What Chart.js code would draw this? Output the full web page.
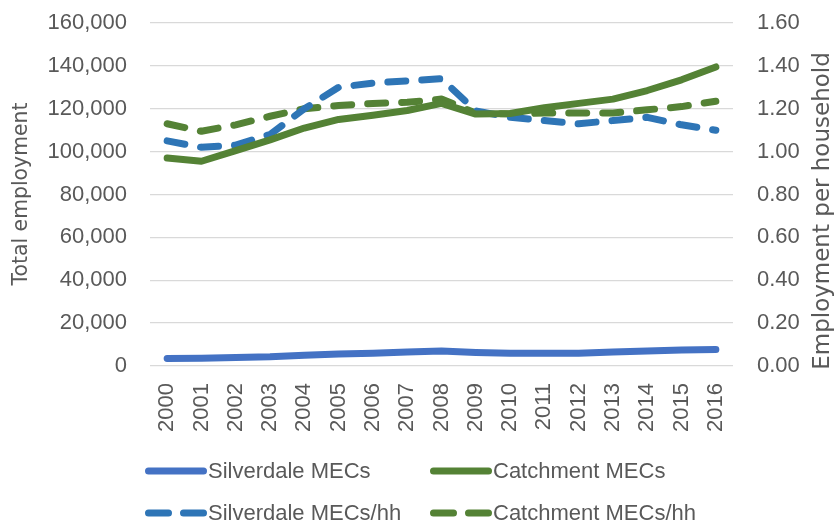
<!DOCTYPE html>
<html>
<head>
<meta charset="utf-8">
<script src="https://cdn.jsdelivr.net/npm/chart.js@4.4.1/dist/chart.umd.min.js"></script>
<style>
  html, body { margin: 0; padding: 0; background: #fff; }
  #wrap { width: 835px; height: 524px; position: relative; }
</style>
</head>
<body>
<div id="wrap"><canvas id="chart"></canvas></div>
<script>
// Data
const years = ['2000', '2001', '2002', '2003', '2004', '2005', '2006', '2007', '2008',
               '2009', '2010', '2011', '2012', '2013', '2014', '2015', '2016'];

const silverdaleMECs = [3500, 3600, 4000, 4300, 5000, 5600, 6000, 6500, 7000,
                        6300, 5900, 5900, 6000, 6500, 7000, 7500, 7700];
const catchmentMECs = [97000, 95500, 100500, 105500, 111000, 115000, 117000, 119200, 122500,
                       117500, 117800, 120500, 122500, 124500, 128500, 133500, 139500];
const silverdaleHH = [1.05, 1.02, 1.03, 1.08, 1.20, 1.30, 1.32, 1.33, 1.34,
                      1.19, 1.16, 1.145, 1.13, 1.145, 1.16, 1.125, 1.10];
const catchmentHH = [1.13, 1.095, 1.125, 1.165, 1.20, 1.215, 1.225, 1.23, 1.245,
                     1.18, 1.175, 1.18, 1.18, 1.18, 1.195, 1.21, 1.235];

const seriesNames = ['Silverdale MECs', 'Catchment MECs', 'Silverdale MECs/hh', 'Catchment MECs/hh'];

const TEXT = '#595959';
const SANS = "'Liberation Sans', Arial, sans-serif";
const TITLE_FONT = "'DejaVu Sans', sans-serif";

// Excel style legend: two fixed columns, two rows
const legendGrid = {
  id: 'legendGrid',
  afterDraw(chart) {
    const ctx = chart.ctx;
    const cols = [145, 430];
    const rows = [471, 513];
    chart.data.datasets.forEach((ds, i) => {
      const x = cols[i % 2];
      const y = rows[Math.floor(i / 2)];
      ctx.save();
      ctx.strokeStyle = ds.borderColor;
      ctx.lineWidth = ds.borderWidth;
      ctx.lineCap = 'round';
      ctx.setLineDash(ds.borderDash ? [20, 15] : []);
      ctx.beginPath();
      ctx.moveTo(x + 3.5, y);
      ctx.lineTo(x + 58.5, y);
      ctx.stroke();
      ctx.setLineDash([]);
      ctx.fillStyle = TEXT;
      ctx.font = '22px ' + SANS;
      ctx.textBaseline = 'middle';
      ctx.textAlign = 'left';
      ctx.fillText(ds.label, x + 63, y + 1);
      ctx.restore();
    });

    // axis titles, both reading bottom to top
    const drawTitle = (text, cx, cy, size) => {
      ctx.save();
      ctx.translate(cx, cy);
      ctx.rotate(-Math.PI / 2);
      ctx.font = size + 'px ' + TITLE_FONT;
      ctx.fillStyle = TEXT;
      ctx.textAlign = 'center';
      ctx.textBaseline = 'middle';
      ctx.fillText(text, 0, 0);
      ctx.restore();
    };
    drawTitle('Total employment', 22, 194, 20.4);
    drawTitle('Employment per household', 823, 211, 23);
  }
};

// keep the tick label gap from pushing the plot area down
const fixY = (width) => (scale) => {
  scale.width = width;
  scale.paddingTop = 0;
  scale.paddingBottom = 0;
};

const ctx = document.getElementById('chart').getContext('2d');
new Chart(ctx, {
  type: 'line',
  data: {
    labels: years,
    datasets: [{
      label: seriesNames[0],
      data: silverdaleMECs,
      yAxisID: 'y',
      borderColor: '#4472C4',
      borderWidth: 7
    }, {
      label: seriesNames[1],
      data: catchmentMECs,
      yAxisID: 'y',
      borderColor: '#548235',
      borderWidth: 7
    }, {
      label: seriesNames[2],
      data: silverdaleHH,
      yAxisID: 'y1',
      borderColor: '#2E75B6',
      borderWidth: 7,
      borderDash: [18, 16]
    }, {
      label: seriesNames[3],
      data: catchmentHH,
      yAxisID: 'y1',
      borderColor: '#548235',
      borderWidth: 7,
      borderDash: [18, 16]
    }]
  },
  options: {
    responsive: true,
    maintainAspectRatio: false,
    animation: false,
    layout: { padding: { top: 23, left: 0, right: 0, bottom: 0 } },
    elements: {
      point: { radius: 0, hoverRadius: 0 },
      line: { tension: 0, borderCapStyle: 'round', borderJoinStyle: 'round', fill: false }
    },
    plugins: {
      legend: { display: false },
      tooltip: { enabled: false }
    },
    scales: {
      x: {
        offset: true,
        grid: { display: false, drawTicks: false, offset: true },
        border: { display: false },
        ticks: {
          minRotation: 90,
          maxRotation: 90,
          padding: 17,
          color: TEXT,
          font: { family: SANS, size: 22 }
        },
        afterFit(scale) { scale.height = 158; }
      },
      y: {
        position: 'left',
        min: 0,
        max: 160000,
        grid: { color: '#d9d9d9', lineWidth: 1.3, drawTicks: false },
        border: { display: false },
        ticks: {
          stepSize: 20000,
          padding: 23,
          color: TEXT,
          font: { family: SANS, size: 22 },
          callback: v => v.toLocaleString('en-US')
        },
        afterFit: fixY(150)
      },
      y1: {
        position: 'right',
        min: 0,
        max: 1.6,
        grid: { drawOnChartArea: false, drawTicks: false },
        border: { display: false },
        ticks: {
          stepSize: 0.2,
          padding: 24,
          color: TEXT,
          font: { family: SANS, size: 22 },
          callback: v => Number(v).toFixed(2)
        },
        afterFit: fixY(102)
      }
    }
  },
  plugins: [legendGrid]
});
</script>
</body>
</html>
